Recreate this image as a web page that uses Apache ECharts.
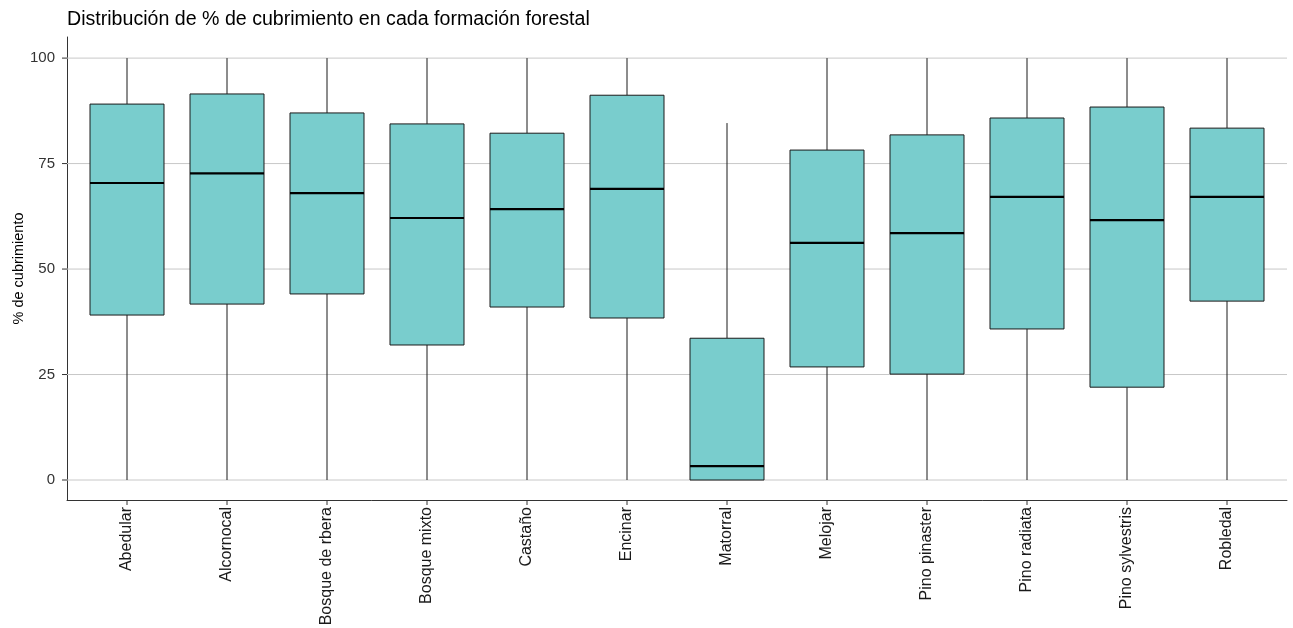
<!DOCTYPE html>
<html>
<head>
<meta charset="utf-8">
<script src="https://cdn.jsdelivr.net/npm/echarts@6/dist/echarts.min.js"></script>
<style>
html,body{margin:0;padding:0;background:#fff;}
#c{width:1293px;height:628px;}
</style>
</head>
<body>
<div id="c"></div>
<script>
const categories = ["Abedular","Alcornocal","Bosque de rbera","Bosque mixto","Castaño","Encinar","Matorral","Melojar","Pino pinaster","Pino radiata","Pino sylvestris","Robledal"];
const lowWhisker = [0,0,0,0,0,0,0,0,0,0,0,0];
const q1 = [39.1,41.7,44.1,32.0,41.0,38.4,0,26.8,25.1,35.8,22.0,42.4];
const medians = [70.4,72.7,68.0,62.1,64.2,69.0,3.3,56.2,58.5,67.1,61.6,67.1];
const q3 = [89.1,91.5,87.0,84.4,82.2,91.2,33.6,78.2,81.8,85.8,88.4,83.4];
const highWhisker = [100,100,100,100,100,100,84.6,100,100,100,100,100];
const yTicks = [0,25,50,75,100];

const catIdx = categories.map((c,i)=>i);
const boxData = categories.map((c,i)=>[i,lowWhisker[i],q1[i],medians[i],q3[i],highWhisker[i]]);
const chart = echarts.init(document.getElementById('c'));
const FONT = '"Liberation Sans", Arial, sans-serif';
chart.setOption({
  animation:false,
  backgroundColor:'#fff',
  title:{text:'Distribución de % de cubrimiento en cada formación forestal',left:62,top:5,
    textStyle:{fontFamily:FONT,fontSize:19.6,fontWeight:'normal',color:'#000'}},
  grid:{left:67,right:6,top:37,bottom:128,containLabel:false,outerBoundsMode:'none'},
  xAxis:{type:'value',min:-0.6,max:11.6,
    axisLine:{onZero:false,lineStyle:{color:'#333',width:1}},
    axisTick:{show:false},
    axisLabel:{customValues:catIdx,formatter:function(v){return categories[Math.round(v)];},
      rotate:90,fontFamily:FONT,fontSize:16,color:'#1a1a1a',margin:7},
    splitLine:{show:false}},
  yAxis:{type:'value',min:-4.74,max:105,
    name:'% de cubrimiento',nameLocation:'middle',nameGap:41,nameMoveOverlap:false,
    nameTextStyle:{fontFamily:FONT,fontSize:14.5,color:'#000'},
    axisLine:{show:true,onZero:false,lineStyle:{color:'#333',width:1}},
    axisTick:{show:false},
    axisLabel:{customValues:yTicks,fontFamily:FONT,fontSize:15,color:'#333',margin:12},
    splitLine:{show:false}},
  series:[
    {type:'custom',z:1,silent:true,clip:false,
     data:yTicks.map(v=>[0,v]),
     encode:{x:0,y:1},
     renderItem:function(params,api){
       const cs=params.coordSys;
       const y=api.coord([0,api.value(1)])[1];
       return {type:'group',children:[
         {type:'line',shape:{x1:cs.x,y1:y,x2:cs.x+cs.width,y2:y},style:{stroke:'#c8c8c8',lineWidth:1}},
         {type:'line',shape:{x1:cs.x-5,y1:y,x2:cs.x,y2:y},style:{stroke:'#333',lineWidth:1}}
       ]};
     }},
    {type:'custom',z:2,silent:true,clip:false,
     data:catIdx.map(i=>[i,0]),
     encode:{x:0,y:1},
     renderItem:function(params,api){
       const cs=params.coordSys;
       const x=api.coord([api.value(0),0])[0];
       const yb=cs.y+cs.height;
       return {type:'line',shape:{x1:x,y1:yb,x2:x,y2:yb+5},style:{stroke:'#333',lineWidth:1}};
     }},
    {type:'custom',z:3,silent:true,
     data:boxData,
     encode:{x:0,y:[1,2,3,4,5]},
     renderItem:function(params,api){
       const i=api.value(0);
       const pLow=api.coord([i,api.value(1)]);
       const pQ1=api.coord([i,api.value(2)]);
       const pMed=api.coord([i,api.value(3)]);
       const pQ3=api.coord([i,api.value(4)]);
       const pHigh=api.coord([i,api.value(5)]);
       const hw=api.size([1,0])[0]*0.37;
       const x=pMed[0];
       const stroke={stroke:'#1a1a1a',lineWidth:1};
       return {type:'group',children:[
         {type:'line',shape:{x1:x,y1:pQ1[1],x2:x,y2:pLow[1]},style:stroke},
         {type:'line',shape:{x1:x,y1:pQ3[1],x2:x,y2:pHigh[1]},style:stroke},
         {type:'rect',shape:{x:x-hw,y:pQ3[1],width:2*hw,height:pQ1[1]-pQ3[1]},
           style:{fill:'#79CDCD',stroke:'#1a1a1a',lineWidth:1}},
         {type:'line',shape:{x1:x-hw,y1:pMed[1],x2:x+hw,y2:pMed[1]},style:{stroke:'#000',lineWidth:2.2}}
       ]};
     }}
  ]
});
</script>
</body>
</html>
